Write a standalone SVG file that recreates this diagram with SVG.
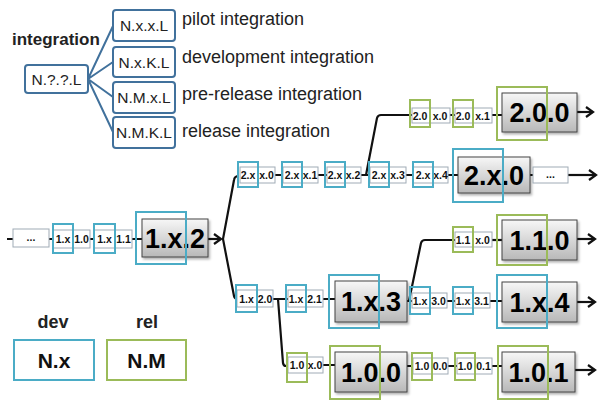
<svg xmlns="http://www.w3.org/2000/svg" width="600" height="402" viewBox="0 0 600 402">
<style>
.bg{fill:#fff}
.lb{fill:#fff;stroke:#41719C;stroke-width:2}
.fan{stroke:#41719C;stroke-width:2;fill:none}
.lt{font-family:"Liberation Sans",Arial,sans-serif;font-size:15.5px;fill:#222;text-anchor:middle}
.desc{font-family:"Liberation Sans",Arial,sans-serif;font-size:18px;fill:#222}
.hd{font-family:"Liberation Sans",Arial,sans-serif;font-size:17px;font-weight:bold;fill:#222}
.ln{stroke:#111;stroke-width:2.2;fill:none}
.sm{fill:#fff;stroke:#a0abb6;stroke-width:1}
.st{font-family:"Liberation Sans",Arial,sans-serif;font-size:10.5px;font-weight:bold;fill:#111;text-anchor:middle}
.big{fill:url(#g);stroke:#444;stroke-width:1;filter:url(#sh)}
.bt{font-family:"Liberation Sans",Arial,sans-serif;font-size:27px;font-weight:bold;fill:#000;text-anchor:middle}
.dev{fill:none;stroke:#4BACC6;stroke-width:2}
.rel{fill:none;stroke:#9BBB59;stroke-width:2}
.kt{font-family:"Liberation Sans",Arial,sans-serif;font-size:21px;font-weight:bold;fill:#111;text-anchor:middle}
.kh{font-family:"Liberation Sans",Arial,sans-serif;font-size:18px;font-weight:bold;fill:#222;text-anchor:middle}
</style>
<defs>
<linearGradient id="g" x1="0" y1="0" x2="0" y2="1">
<stop offset="0" stop-color="#f7f7f7"/>
<stop offset="1" stop-color="#b8b8b8"/>
</linearGradient>
<filter id="sh" x="-10%" y="-10%" width="125%" height="130%">
<feDropShadow dx="1.5" dy="2" stdDeviation="1.2" flood-color="#000" flood-opacity="0.3"/>
</filter>
<marker id="arr" markerWidth="12" markerHeight="12" refX="10" refY="6" orient="auto" markerUnits="userSpaceOnUse">
<path d="M3,1 L10,6 L3,11" fill="none" stroke="#111" stroke-width="2.2"/>
</marker>
</defs>
<rect class="bg" x="0" y="0" width="600" height="402"/>

<!-- integration legend -->
<g id="legend-integration">
<text class="hd" x="12" y="45">integration</text>
<path class="fan" d="M88 79 L113 26 M88 79 L113 62 M88 79 L113 97 M88 79 L113 132"/>
<g id="n-int"><rect class="lb" x="25" y="65" width="63" height="28" rx="3"/><text class="lt" x="56.5" y="85">N.?.?.L</text></g>
<g id="n-pilot"><rect class="lb" x="113" y="10" width="62" height="31" rx="3"/><text class="lt" x="144" y="31">N.x.x.L</text></g>
<g id="n-devint"><rect class="lb" x="113" y="47" width="62" height="30" rx="3"/><text class="lt" x="144" y="68">N.x.K.L</text></g>
<g id="n-preint"><rect class="lb" x="113" y="82" width="62" height="31" rx="3"/><text class="lt" x="144" y="103">N.M.x.L</text></g>
<g id="n-relint"><rect class="lb" x="113" y="117" width="62" height="31" rx="3"/><text class="lt" x="144" y="138">N.M.K.L</text></g>
<text class="desc" x="182" y="25">pilot integration</text>
<text class="desc" x="182" y="63">development integration</text>
<text class="desc" x="182" y="100">pre-release integration</text>
<text class="desc" x="182" y="137">release integration</text>
</g>

<!-- dev / rel key -->
<g id="key-dev"><text class="kh" x="53" y="328">dev</text><rect class="dev" x="14" y="340" width="80" height="40"/><text class="kt" x="54" y="368">N.x</text></g>
<g id="key-rel"><text class="kh" x="147" y="328">rel</text><rect class="rel" x="107" y="340" width="79" height="40"/><text class="kt" x="146.5" y="368">N.M</text></g>

<!-- connectors -->
<g id="connectors">
<path class="ln" d="M7 239 H13 M49 239 H53 M90 239 H94 M132 239 H142"/>
<path class="ln" d="M208 239 H221" marker-end="url(#arr)"/>
<path class="ln" d="M239 176 Q234.5 176 234 180 L223 239 L234 296 Q234.5 299 239 299"/>
<path class="ln" d="M275 175 H283 M318 175 H327 M361 175 H370 M406 175 H413 M448 175 H458 M530 175 H533"/>
<path class="ln" d="M568 175 H596" marker-end="url(#arr)"/>
<path class="ln" d="M366 175 L377 118 Q378 115 381 115 H412"/>
<path class="ln" d="M450 115 H455 M492 115 H502"/>
<path class="ln" d="M577 112 H593" marker-end="url(#arr)"/>
<path class="ln" d="M273 299 H288 M323 299 H335 M407 301 H412"/>
<path class="ln" d="M278 299 L283 363 Q283.5 366 286 366 H288"/>
<path class="ln" d="M409 301 L421 243 Q422 240 425 240 H455"/>
<path class="ln" d="M492 240 H502"/>
<path class="ln" d="M577 239 H595" marker-end="url(#arr)"/>
<path class="ln" d="M447 301 H455 M490 301 H502"/>
<path class="ln" d="M577 302 H595" marker-end="url(#arr)"/>
<path class="ln" d="M323 365 H335 M407 366 H413 M448 366 H457 M492 366 H502"/>
<path class="ln" d="M575 370 H595" marker-end="url(#arr)"/>
</g>

<!-- main row -->
<g id="n-dots1"><rect class="sm" x="13" y="229" width="36" height="18"/><text class="st" x="31" y="241">...</text></g>
<g id="n-1x10"><rect class="sm" x="53" y="230" width="37" height="18"/><text class="st" x="63" y="243">1.x</text><text class="st" x="81.5" y="243">1.0</text><rect class="dev" x="53" y="224" width="20" height="29"/></g>
<g id="n-1x11"><rect class="sm" x="94" y="230" width="38" height="18"/><text class="st" x="104.5" y="243">1.x</text><text class="st" x="123.5" y="243">1.1</text><rect class="dev" x="94" y="224" width="21" height="29"/></g>
<g id="n-1x2"><rect class="big" x="142" y="219" width="66" height="38"/><text class="bt" x="175" y="247.5">1.x.2</text><rect class="dev" x="136" y="212" width="50" height="52"/></g>

<!-- 2.x row -->
<g id="n-2xx0"><rect class="sm" x="240" y="167" width="35" height="16"/><text class="st" x="248" y="179">2.x</text><text class="st" x="266.5" y="179">x.0</text><rect class="dev" x="238" y="162" width="20" height="25"/></g>
<g id="n-2xx1"><rect class="sm" x="283" y="167" width="35" height="16"/><text class="st" x="292" y="179">2.x</text><text class="st" x="310" y="179">x.1</text><rect class="dev" x="282" y="162" width="20" height="25"/></g>
<g id="n-2xx2"><rect class="sm" x="327" y="167" width="34" height="16"/><text class="st" x="335" y="179">2.x</text><text class="st" x="353" y="179">x.2</text><rect class="dev" x="325" y="162" width="20" height="25"/></g>
<g id="n-2xx3"><rect class="sm" x="370" y="167" width="36" height="16"/><text class="st" x="379" y="179">2.x</text><text class="st" x="397.5" y="179">x.3</text><rect class="dev" x="369" y="162" width="20" height="25"/></g>
<g id="n-2xx4"><rect class="sm" x="413" y="167" width="35" height="16"/><text class="st" x="423" y="179">2.x</text><text class="st" x="440.5" y="179">x.4</text><rect class="dev" x="413" y="162" width="20" height="25"/></g>
<g id="n-2x0"><rect class="big" x="458" y="157" width="72" height="36"/><text class="bt" x="494" y="184.5">2.x.0</text><rect class="dev" x="453" y="149" width="50" height="53"/></g>
<g id="n-dots2"><rect class="sm" x="533" y="167" width="35" height="16"/><text class="st" x="550.5" y="178">...</text></g>

<!-- 2.0 row -->
<g id="n-20x0"><rect class="sm" x="412" y="108" width="38" height="15"/><text class="st" x="420" y="119.5">2.0</text><text class="st" x="440" y="119.5">x.0</text><rect class="rel" x="410" y="100" width="20" height="27"/></g>
<g id="n-20x1"><rect class="sm" x="455" y="108" width="37" height="15"/><text class="st" x="463" y="119.5">2.0</text><text class="st" x="482.5" y="119.5">x.1</text><rect class="rel" x="453" y="100" width="20" height="27"/></g>
<g id="n-200"><rect class="big" x="502" y="93" width="75" height="39"/><text class="bt" x="539.5" y="122">2.0.0</text><rect class="rel" x="497" y="87" width="50" height="53"/></g>

<!-- 1.x.2 row -->
<g id="n-1x20"><rect class="sm" x="237" y="290" width="36" height="17"/><text class="st" x="246.5" y="302.5">1.x</text><text class="st" x="265" y="302.5">2.0</text><rect class="dev" x="236" y="285" width="21" height="27"/></g>
<g id="n-1x21"><rect class="sm" x="288" y="290" width="35" height="17"/><text class="st" x="296" y="302.5">1.x</text><text class="st" x="314.5" y="302.5">2.1</text><rect class="dev" x="286" y="285" width="20" height="27"/></g>
<g id="n-1x3"><rect class="big" x="335" y="281" width="72" height="41"/><text class="bt" x="371" y="311">1.x.3</text><rect class="dev" x="329" y="275" width="50" height="53"/></g>

<!-- 1.1 row -->
<g id="n-11x0"><rect class="sm" x="455" y="232" width="37" height="15"/><text class="st" x="463" y="243.5">1.1</text><text class="st" x="482.5" y="243.5">x.0</text><rect class="rel" x="453" y="227" width="20" height="25"/></g>
<g id="n-110"><rect class="big" x="502" y="220" width="75" height="40"/><text class="bt" x="539.5" y="249.5">1.1.0</text><rect class="rel" x="497" y="215" width="50" height="50"/></g>

<!-- 1.x.3 row -->
<g id="n-1x30"><rect class="sm" x="412" y="293" width="35" height="15"/><text class="st" x="420" y="304.5">1.x</text><text class="st" x="438.5" y="304.5">3.0</text><rect class="dev" x="410" y="287" width="20" height="27"/></g>
<g id="n-1x31"><rect class="sm" x="455" y="293" width="35" height="15"/><text class="st" x="463" y="304.5">1.x</text><text class="st" x="481.5" y="304.5">3.1</text><rect class="dev" x="453" y="287" width="20" height="27"/></g>
<g id="n-1x4"><rect class="big" x="502" y="282" width="75" height="40"/><text class="bt" x="539.5" y="311.5">1.x.4</text><rect class="dev" x="497" y="275" width="50" height="53"/></g>

<!-- 1.0 row -->
<g id="n-10x0"><rect class="sm" x="288" y="357" width="35" height="16"/><text class="st" x="297" y="369">1.0</text><text class="st" x="315" y="369">x.0</text><rect class="rel" x="287" y="353" width="20" height="29"/></g>
<g id="n-100"><rect class="big" x="335" y="352" width="72" height="40"/><text class="bt" x="371" y="381.5">1.0.0</text><rect class="rel" x="330" y="346" width="50" height="53"/></g>
<g id="n-1000"><rect class="sm" x="413" y="358" width="35" height="16"/><text class="st" x="422" y="370">1.0</text><text class="st" x="440" y="370">0.0</text><rect class="rel" x="412" y="353" width="20" height="27"/></g>
<g id="n-1001"><rect class="sm" x="457" y="358" width="35" height="16"/><text class="st" x="465" y="370">1.0</text><text class="st" x="483.5" y="370">0.1</text><rect class="rel" x="455" y="353" width="20" height="27"/></g>
<g id="n-101"><rect class="big" x="502" y="352" width="73" height="40"/><text class="bt" x="538.5" y="381.5">1.0.1</text><rect class="rel" x="498" y="346" width="50" height="53"/></g>
</svg>
